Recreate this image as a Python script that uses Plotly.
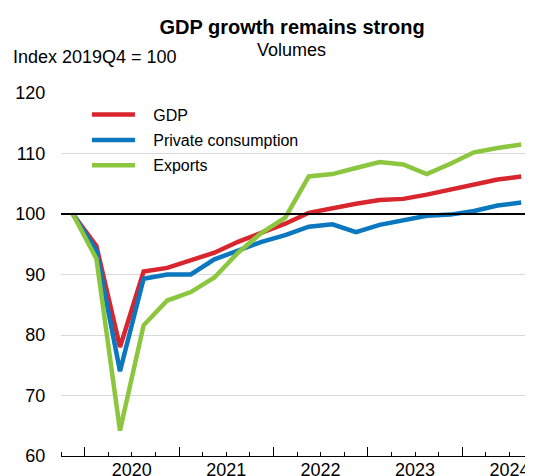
import plotly.graph_objects as go

quarters = ["2019Q4",
            "2020Q1", "2020Q2", "2020Q3", "2020Q4",
            "2021Q1", "2021Q2", "2021Q3", "2021Q4",
            "2022Q1", "2022Q2", "2022Q3", "2022Q4",
            "2023Q1", "2023Q2", "2023Q3", "2023Q4",
            "2024Q1", "2024Q2", "2024Q3"]
gdp = [100, 94.7, 78.0, 90.5, 91.1, 92.3, 93.6, 95.4, 96.9, 98.4,
       100.2, 101.0, 101.7, 102.3, 102.5, 103.2, 104.0, 104.9, 105.7, 106.2]
private_consumption = [100, 94.0, 74.0, 89.3, 90.0, 90.0, 92.5, 93.9, 95.4, 96.5,
                       97.9, 98.3, 97.0, 98.2, 99.0, 99.7, 99.9, 100.5, 101.4, 101.9]
exports = [100, 92.6, 64.2, 81.6, 85.7, 87.1, 89.5, 93.6, 96.9, 99.4,
           106.2, 106.6, 107.6, 108.6, 108.2, 106.6, 108.3, 110.2, 110.9, 111.5]
years = ["2020", "2021", "2022", "2023", "2024"]

series = [("GDP", gdp, "#d9262e"),
          ("Private consumption", private_consumption, "#0a77bf"),
          ("Exports", exports, "#8cc63f")]

idx = list(range(len(quarters)))

# the page body adds an 8px margin; compensate so the figure lands like the reference
OFF = 8
W, H = 533 - OFF, 476 - OFF
L, T = 61 - OFF, 93.3 - OFF
PH = 362.4
PW = W - L
NB = "\u00a0"

fig = go.Figure()
for name, vals, col in series:
    fig.add_trace(go.Scatter(x=idx, y=vals, name=NB * 3 + name, mode="lines",
                             legendgroup=name,
                             line=dict(color=col, width=4.5),
                             text=quarters,
                             hovertemplate="%{text}: %{y}<extra>" + name + "</extra>"))

# invisible trace on a second x axis that carries the long year-boundary ticks
fig.add_trace(go.Scatter(x=[idx[0], idx[-1]], y=[None, None], xaxis="x2",
                         showlegend=False, hoverinfo="skip"))

year_centers = [1 + 4 * k + 1.5 for k in range(len(years))]
year_bounds = [0.5 + 4 * k for k in range(len(years))]

font = "Liberation Sans, Arial, sans-serif"

fig.update_layout(
    width=W, height=H,
    margin=dict(l=L, r=0, t=T, b=H - T - PH, autoexpand=False),
    paper_bgcolor="white", plot_bgcolor="white",
    font=dict(family=font, size=18, color="#000000"),
    title=dict(text="<b>GDP growth remains strong</b>", font=dict(size=20, family=font),
               x=(292 - OFF) / W, xanchor="center", xref="container",
               y=1 - (26.5 - OFF) / H, yanchor="middle", yref="container"),
    showlegend=True,
    legend=dict(x=0.055, y=0.987, xanchor="left", yanchor="top",
                bgcolor="rgba(0,0,0,0)", font=dict(size=16, family=font),
                itemwidth=43, tracegroupgap=1.5),
    xaxis=dict(range=[-0.5, len(quarters) - 0.5], showgrid=False, zeroline=False,
               showline=True, linecolor="black", linewidth=1,
               tickmode="array", tickvals=year_centers, ticktext=years,
               ticks="", tickfont=dict(size=18), ticklabelstandoff=-3,
               minor=dict(ticks="inside", tick0=0.5, dtick=1, ticklen=4,
                          tickcolor="black", tickwidth=1, showgrid=False),
               automargin=False, fixedrange=True),
    xaxis2=dict(range=[-0.5, len(quarters) - 0.5], overlaying="x", side="bottom",
                matches="x", showgrid=False, zeroline=False, showline=False,
                tickmode="array", tickvals=year_bounds, ticks="inside", ticklen=9,
                tickcolor="black", tickwidth=1, showticklabels=False,
                automargin=False),
    yaxis=dict(range=[60, 120], tickvals=[60, 70, 80, 90, 100, 110, 120],
               showgrid=True, gridcolor="#d9d9d9", gridwidth=1,
               zeroline=False, showline=False,
               ticks="outside", ticklen=11, tickcolor="rgba(0,0,0,0)",
               tickfont=dict(size=18),
               automargin=False, fixedrange=True),
)

fig.add_shape(type="line", xref="paper", x0=0, x1=1, yref="y", y0=100, y1=100,
              line=dict(color="black", width=2), layer="above")

fig.add_annotation(text="Volumes", xref="paper", yref="paper",
                   x=(291 - OFF - L) / PW, y=1 + (T - (50 - OFF)) / PH,
                   xanchor="center", yanchor="middle",
                   showarrow=False, font=dict(size=18, family=font))
fig.add_annotation(text="Index 2019Q4 = 100", xref="paper", yref="paper",
                   x=(11 - OFF - L) / PW, y=1 + (T - (57.5 - OFF)) / PH,
                   xanchor="left", yanchor="middle", showarrow=False,
                   font=dict(size=18, family=font))

fig.write_html("out.html")
